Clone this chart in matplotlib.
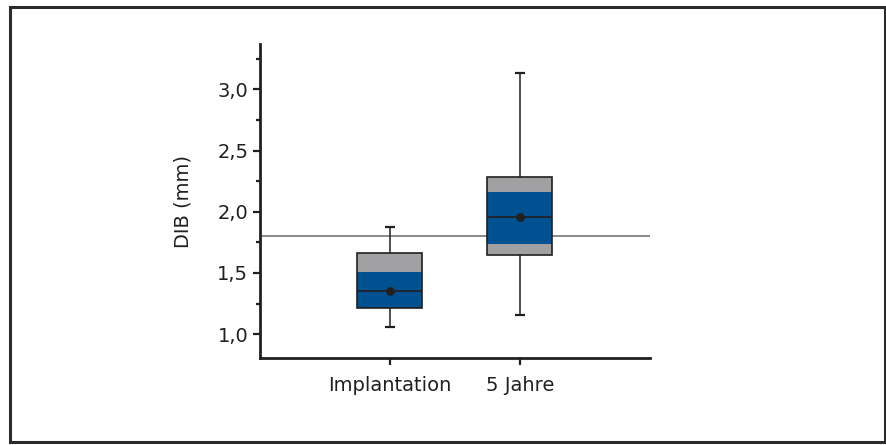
import matplotlib.pyplot as plt
from matplotlib.patches import Rectangle
from matplotlib.ticker import FuncFormatter, MultipleLocator

# Daten
gruppen = ["Implantation", "5 Jahre"]
whisker_unten = [1.055, 1.155]
whisker_oben = [1.875, 3.13]
box_unten = [1.21, 1.645]
box_oben = [1.66, 2.28]
blau_unten = [1.21, 1.74]
blau_oben = [1.505, 2.165]
median = [1.355, 1.955]
mittelwert = [1.355, 1.955]
referenz = 1.80

blau = "#00518f"
grau = "#a1a1a4"
dunkel = "#231f20"

plt.rcParams["font.family"] = ["DejaVu Sans"]

fig = plt.figure(figsize=(8.87, 4.45), dpi=100)
ax = fig.add_axes([260 / 887, 1 - 358 / 445, 390 / 887, 314 / 445])

pos = [1, 2]
breite = 0.5
kappe = 0.04

# Referenzlinie
ax.axhline(referenz, color="#808080", lw=1.3, zorder=1)

# Whisker
ax.vlines(pos, whisker_unten, box_unten, color=dunkel, lw=1.1, zorder=2)
ax.vlines(pos, box_oben, whisker_oben, color=dunkel, lw=1.1, zorder=2)
ax.hlines(whisker_unten, [p - kappe for p in pos], [p + kappe for p in pos], color=dunkel, lw=1.6, zorder=2)
ax.hlines(whisker_oben, [p - kappe for p in pos], [p + kappe for p in pos], color=dunkel, lw=1.6, zorder=2)

# Boxen
hoehe_box = [o - u for o, u in zip(box_oben, box_unten)]
hoehe_blau = [o - u for o, u in zip(blau_oben, blau_unten)]
ax.bar(pos, hoehe_box, bottom=box_unten, width=breite, color=grau, zorder=3)
ax.bar(pos, hoehe_blau, bottom=blau_unten, width=breite, color=blau, zorder=4)
ax.bar(pos, hoehe_box, bottom=box_unten, width=breite, facecolor="none",
       edgecolor=dunkel, lw=1.2, zorder=5)

# Median und Mittelwert
ax.hlines(median, [p - breite / 2 for p in pos], [p + breite / 2 for p in pos], color=dunkel, lw=1.2, zorder=6)
ax.scatter(pos, mittelwert, s=28, color=dunkel, zorder=7)

ax.set_xlim(0, 3)
ax.set_ylim(0.805, 3.37)
ax.set_xticks(pos)
ax.set_xticklabels(gruppen, fontsize=14)
ax.yaxis.set_major_locator(MultipleLocator(0.5))
ax.yaxis.set_minor_locator(MultipleLocator(0.25))
ax.yaxis.set_major_formatter(FuncFormatter(lambda v, p: f"{v:.1f}".replace(".", ",")))
ax.tick_params(axis="y", labelsize=14, width=1.6, length=5, color=dunkel, labelcolor=dunkel)
ax.tick_params(axis="y", which="minor", width=1.6, length=3, color=dunkel)
ax.tick_params(axis="x", width=1.6, length=5, color=dunkel, labelcolor=dunkel, pad=8)
ax.set_ylabel("DIB (mm)", fontsize=14, color=dunkel, labelpad=18)

for s in ["top", "right"]:
    ax.spines[s].set_visible(False)
for s in ["left", "bottom"]:
    ax.spines[s].set_linewidth(2)
    ax.spines[s].set_color(dunkel)

# Rahmen
fig.add_artist(Rectangle((10 / 887, 3 / 445), 875 / 887, 435 / 445,
                         transform=fig.transFigure, fill=False,
                         edgecolor="#2b2b2b", lw=2.2))

fig.savefig("out.png", dpi=100)
